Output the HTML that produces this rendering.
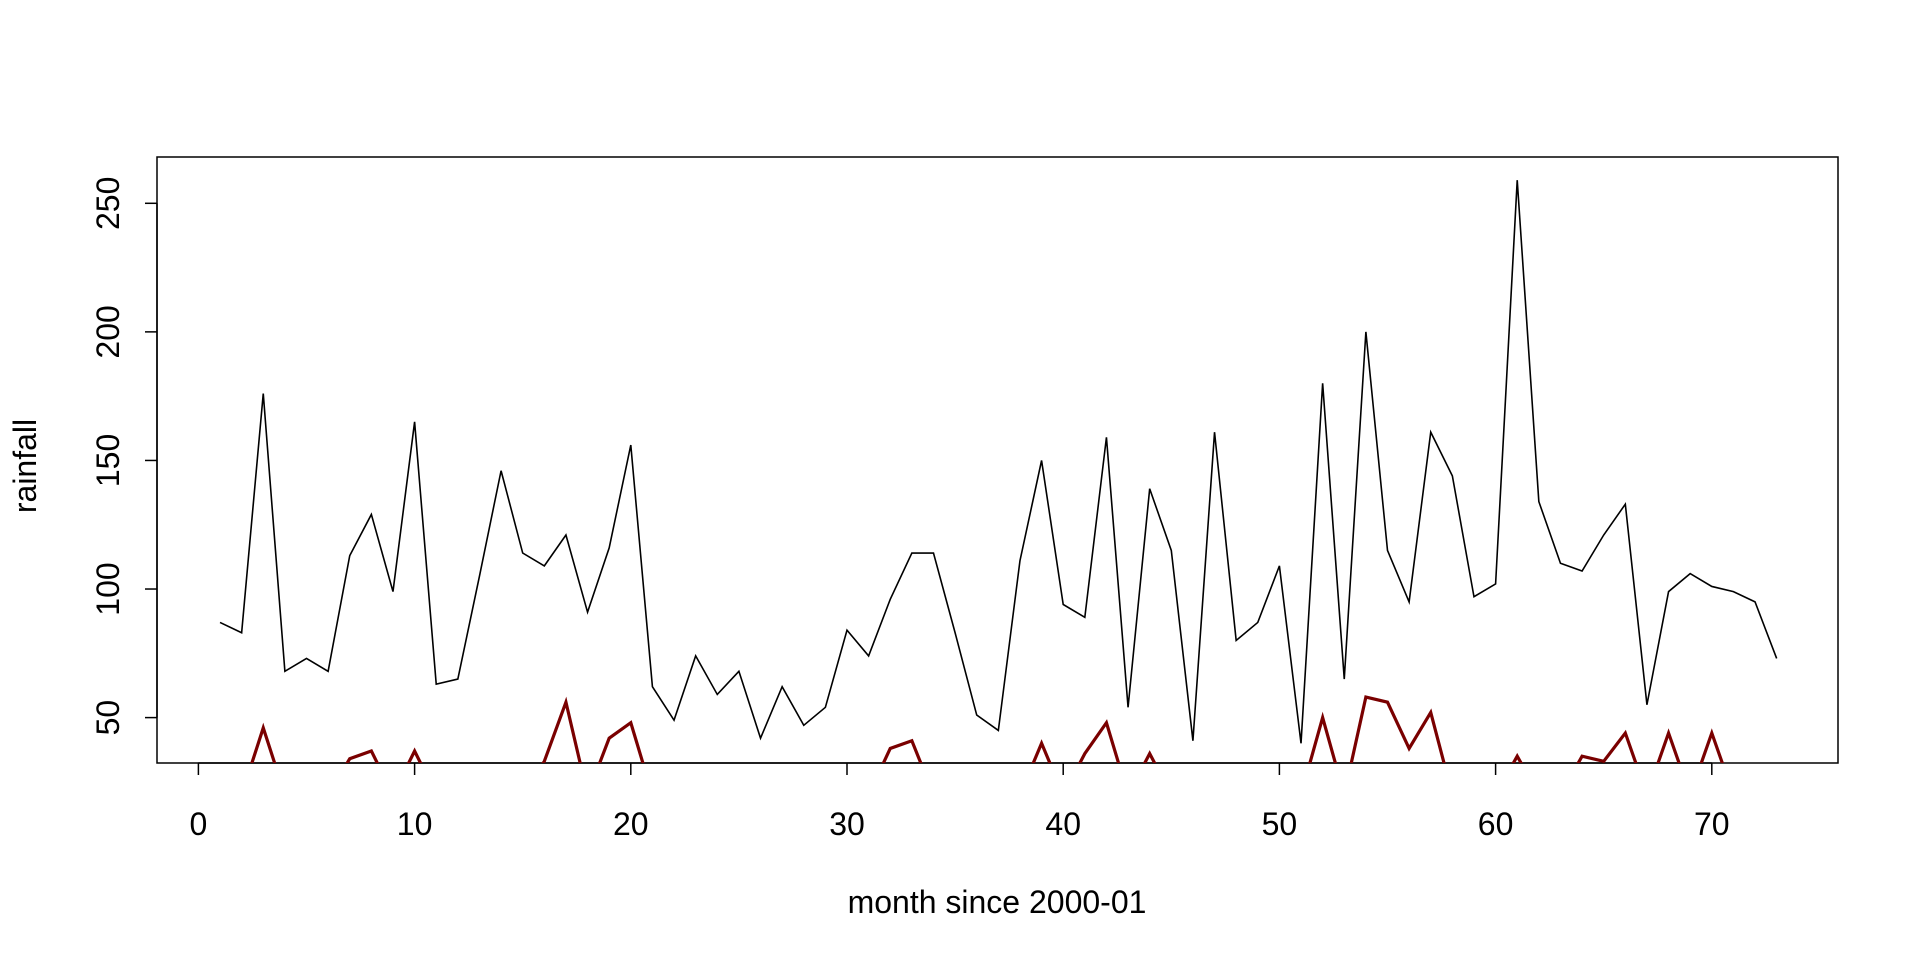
<!DOCTYPE html>
<html><head><meta charset="utf-8"><style>
html,body{margin:0;padding:0;background:#fff;}
svg text{font-family:"Liberation Sans",Arial,sans-serif;font-size:32px;fill:#000;}
</style></head><body>
<svg id="chart" width="1920" height="960" viewBox="0 0 1920 960" xmlns="http://www.w3.org/2000/svg">
<defs><clipPath id="clip"><rect x="157" y="157" width="1681" height="606"/></clipPath></defs>
<rect x="157" y="157" width="1681" height="606" fill="none" stroke="#000" stroke-width="1.5"/>
<g id="xaxis"></g>
<g id="yaxis"></g>
<g clip-path="url(#clip)" id="series"></g>
<text x="997" y="913" text-anchor="middle">month since 2000-01</text>
<text transform="translate(36,466) rotate(-90)" text-anchor="middle">rainfall</text>
</svg>
<script>
const rainfall = [87,83,176,68,73,68,113,129,99,165,63,65,105,146,114,109,121,91,116,156,62,49,74,59,68,42,62,47,54,84,74,96,114,114,83,51,45,111,150,94,89,159,54,139,115,41,161,80,87,109,40,180,65,200,115,95,161,144,97,102,259,134,110,107,121,133,55,99,106,101,99,95,73];
const redSeries = [20,20,46,20,20,20,34,37,20,37,20,20,20,20,20,33,56,20,42,48,20,20,20,20,20,20,20,20,20,20,20,38,41,20,20,20,20,20,40,20,36,48,20,36,20,20,20,20,20,20,20,50,20,58,56,38,52,20,20,20,35,20,20,35,33,44,20,44,20,44,20,20,20];
const xTicks = [0,10,20,30,40,50,60,70];
const yTicks = [50,100,150,200,250];
const NS="http://www.w3.org/2000/svg";
function X(v){return 198.4 + v*21.62;}
function Y(v){return 717.6 - (v-50)*2.5715;}
const xa=document.getElementById('xaxis'), ya=document.getElementById('yaxis'), sg=document.getElementById('series');
function mk(t,a,p){const e=document.createElementNS(NS,t);for(const k in a)e.setAttribute(k,a[k]);p.appendChild(e);return e;}
mk('line',{x1:X(0),x2:X(70),y1:763,y2:763,stroke:'#000','stroke-width':1.5},xa);
xTicks.forEach(v=>{
  const l=mk('line',{x1:X(v),x2:X(v),y1:763,y2:775,stroke:'#000','stroke-width':1.5},xa);
  
  
  const t=mk('text',{x:X(v),y:835,'text-anchor':'middle'},xa);t.textContent=v;
  
  
});
mk('line',{x1:157,x2:157,y1:Y(50),y2:Y(250),stroke:'#000','stroke-width':1.5},ya);
yTicks.forEach(v=>{
  const l=mk('line',{x1:145,x2:157,y1:Y(v),y2:Y(v),stroke:'#000','stroke-width':1.5},ya);
  
  
  const t=mk('text',{transform:`translate(119,${Y(v)}) rotate(-90)`,'text-anchor':'middle'},ya);t.textContent=v;
  
  
});
const p1=mk('polyline',{points:rainfall.map((v,i)=>X(i+1)+','+Y(v)).join(' '),fill:'none',stroke:'#000','stroke-width':1.6,'stroke-linejoin':'miter'},sg);


const p2=mk('polyline',{points:redSeries.map((v,i)=>X(i+1)+','+Y(v)).join(' '),fill:'none',stroke:'#7a0000','stroke-width':3.2,'stroke-linejoin':'miter'},sg);


</script>
</body></html>
